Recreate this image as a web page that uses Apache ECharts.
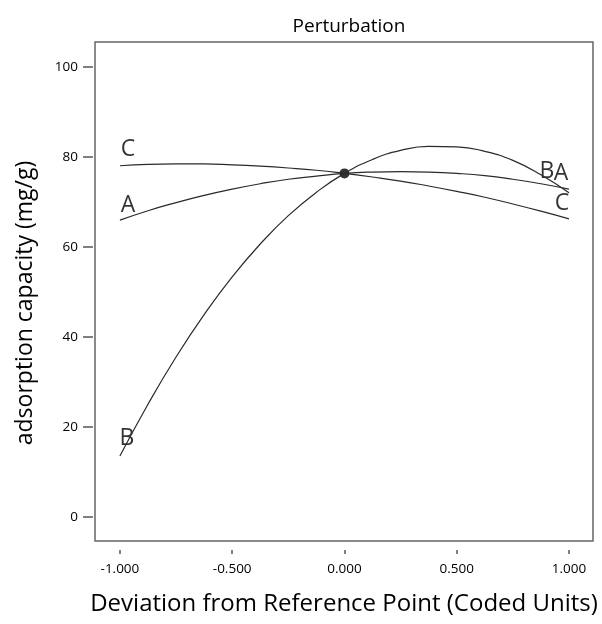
<!DOCTYPE html>
<html><head><meta charset="utf-8">
<script src="https://cdn.jsdelivr.net/npm/echarts@6/dist/echarts.min.js"></script>
<style>html,body{margin:0;padding:0;background:#fff}#c{width:602px;height:624px}</style>
</head><body><div id="c"></div>
<script>
// Deviation from reference point (coded units)
const xs = [-1, -0.875, -0.75, -0.625, -0.5, -0.375, -0.25, -0.125, 0, 0.125, 0.25, 0.375, 0.5, 0.625, 0.75, 0.875, 1];
// adsorption capacity (mg/g)
const seriesA = [65.9, 68.0, 69.8, 71.4, 72.8, 74.0, 75.0, 75.7, 76.3, 76.6, 76.7, 76.6, 76.3, 75.8, 75.0, 74.0, 72.8];
const seriesB = [13.5, 25.0, 35.5, 44.9, 53.3, 60.6, 66.9, 72.1, 76.3, 79.4, 81.4, 82.3, 82.2, 81.2, 79.2, 76.0, 72.0];
const seriesC = [78.0, 78.3, 78.4, 78.4, 78.2, 77.9, 77.5, 77.0, 76.3, 75.5, 74.6, 73.5, 72.3, 71.0, 69.5, 67.9, 66.2];
const refPoint = [0, 76.3];
const xTicks = [-1, -0.5, 0, 0.5, 1];
const yTicks = [0, 20, 40, 60, 80, 100];

const FONT = '"Open Sans", "Noto Sans", sans-serif';
const pair = arr => xs.map((x, i) => [x, arr[i]]);
const last = xs.length - 1;
const lbl = (txt, ox, oy) => ({show: true, formatter: txt, position: 'inside', offset: [ox, oy],
  fontFamily: FONT, fontSize: 23, color: '#000'});

const chart = echarts.init(document.getElementById('c'), null, {renderer: 'canvas'});
chart.setOption({
  animation: false,
  title: {text: 'Perturbation', left: 344, top: 12, textAlign: 'center',
    textStyle: {fontFamily: FONT, fontSize: 19, fontWeight: 'normal', color: '#000'}},
  grid: {left: 95, right: 9, top: 42, bottom: 83, show: true, borderColor: '#666', borderWidth: 1.5},
  xAxis: {type: 'value', min: -1.111, max: 1.107, offset: 9,
    axisLine: {show: false, onZero: false}, splitLine: {show: false},
    axisTick: {show: true, length: 4, customValues: xTicks, lineStyle: {color: '#555', width: 1.5}},
    axisLabel: {customValues: xTicks, margin: 12, formatter: v => v.toFixed(3),
      fontFamily: FONT, fontSize: 13.5, color: '#000'},
    name: 'Deviation from Reference Point (Coded Units)', nameLocation: 'middle', nameGap: 42,
    nameTextStyle: {fontFamily: FONT, fontSize: 24, color: '#000'}},
  yAxis: {type: 'value', min: -5.4, max: 105.5, offset: 2,
    axisLine: {show: false, onZero: false}, splitLine: {show: false},
    axisTick: {show: true, length: 10, customValues: yTicks, lineStyle: {color: '#555', width: 1.5}},
    axisLabel: {customValues: yTicks, margin: 15, fontFamily: FONT, fontSize: 13.5, color: '#000'}},
  graphic: [{type: 'text', x: 25, y: 303, rotation: Math.PI / 2,
    style: {text: 'adsorption capacity (mg/g)', font: '23px ' + FONT, fill: '#000',
      align: 'center', verticalAlign: 'middle'}}],
  series: [
    {name: 'A', type: 'line', data: pair(seriesA), smooth: true, showSymbol: false, silent: true,
     lineStyle: {color: '#2a2a2a', width: 1.2}},
    {name: 'B', type: 'line', data: pair(seriesB), smooth: true, showSymbol: false, silent: true,
     lineStyle: {color: '#2a2a2a', width: 1.2}},
    {name: 'C', type: 'line', data: pair(seriesC), smooth: true, showSymbol: false, silent: true,
     lineStyle: {color: '#2a2a2a', width: 1.2}},
    {name: 'labels', type: 'scatter', symbolSize: 0, silent: true, data: [
      {value: [xs[0], seriesA[0]], label: lbl('A', 8, -15)},
      {value: [xs[0], seriesB[0]], label: lbl('B', 7, -18)},
      {value: [xs[0], seriesC[0]], label: lbl('C', 8, -16)},
      {value: [xs[last], seriesB[last]], label: lbl('B', -22, -21)},
      {value: [xs[last], seriesA[last]], label: lbl('A', -8, -16)},
      {value: [xs[last], seriesC[last]], label: lbl('C', -7, -15)}
    ]},
    {name: 'ref', type: 'scatter', data: [refPoint], symbolSize: 10, silent: true,
     itemStyle: {color: '#000'}}
  ]
});
</script></body></html>
